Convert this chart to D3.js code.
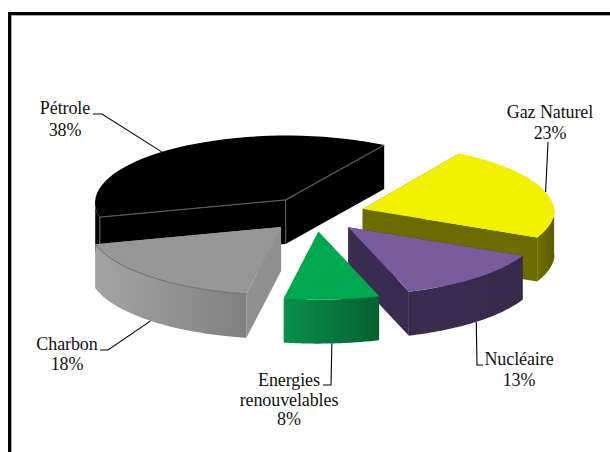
<!DOCTYPE html>
<html><head><meta charset="utf-8">
<script src="https://cdn.jsdelivr.net/npm/d3@7"></script>
<style>html,body{margin:0;padding:0;background:#fff}svg{display:block}text{font-family:"Liberation Serif",serif;font-size:18px;letter-spacing:-0.1px;fill:#111}</style>
</head><body><svg id="c" width="610" height="452"></svg>
<script>
const categories = ["Gaz Naturel","Nucléaire","Energies renouvelables","Charbon","Pétrole"];
const values = [23,13,8,18,38];
const topColors = ["#f2f200","#7a5c9c","#00a94f","#969696","#000000"];
const wallColors = ["#6b6b00","#3a2b50","#0a7f42","#8f8f8f","#000000"];
const arcStops = [["#6f6f00","#5c5c00"],["#3b2c52","#382a4c"],["#0a8f4c","#056030"],["#a4a4a4","#808080"],["#000000","#000000"]];
const labelLines = [["Gaz Naturel","23%"],["Nucléaire","13%"],["Energies","renouvelables","8%"],["Charbon","18%"],["Pétrole","38%"]];

const svg = d3.select("#c");
// frame: black top and left rules with a grey inner shadow, open on the right and bottom
[[11.5,15.5,610,15.5,"#a8a8a8",1],[11.5,15,11.5,452,"#a8a8a8",1],[9.5,12,9.5,452,"#000",3],[8,13.5,610,13.5,"#000",3]].forEach(l=>{
  svg.append("line").attr("x1",l[0]).attr("y1",l[1]).attr("x2",l[2]).attr("y2",l[3]).attr("stroke",l[4]).attr("stroke-width",l[5]);
});

const C = {x:315,y:214}, explode = 0.26, depth = 44, persp = 0.04;
const sx = d3.scaleLinear().domain([-1,1]).range([-192,192]);
const sy = d3.scaleLinear().domain([-1,1]).range([68,-68]);
const rad = d => d*Math.PI/180;
const pie = d3.pie().sort(null).startAngle(rad(32)).endAngle(rad(392));
const arcs = pie(values);

const line = d3.line().x(d=>d[0]).y(d=>d[1]);
const defs = svg.append("defs");
const project=(X,Y)=>{const s=1/(1+persp*Math.max(Y,0));return [C.x+sx(X)*s,C.y+sy(Y)*s];};
arcs.forEach((a,i)=>{
  const mid=(a.startAngle+a.endAngle)/2;
  a.i=i; a.mid=mid;
  const ex=explode*Math.sin(mid), ey=explode*Math.cos(mid);
  a.pt=(t,r=1,dz=0)=>{const p=project(ex+r*Math.sin(t),ey+r*Math.cos(t));return [p[0],p[1]+dz];};
  const g=defs.append("linearGradient").attr("id","g"+i);
  g.append("stop").attr("offset",0).attr("stop-color",arcStops[i][0]);
  g.append("stop").attr("offset",1).attr("stop-color",arcStops[i][1]);
});
const samples=(a,b)=>d3.range(0,41).map(k=>a+(b-a)*k/40);

// painter's order: back to front
[4,0,3,1,2].forEach(i=>{
  const a=arcs[i], g=svg.append("g");
  const O=a.pt(0,0), S=a.pt(a.startAngle), E=a.pt(a.endAngle);
  const wall=(P)=>[O,P,[P[0],P[1]+depth],[O[0],O[1]+depth]];
  g.append("path").attr("d",line(wall(S))+"Z").attr("fill",wallColors[i]);
  g.append("path").attr("d",line(wall(E))+"Z").attr("fill",wallColors[i]);
  // visible part of the rim: the lower half of the ellipse
  const lo=Math.max(a.startAngle,rad(90)), hi=Math.min(a.endAngle,rad(270));
  if(hi>lo){
    const ts=samples(lo,hi);
    const pts=ts.map(t=>a.pt(t)).concat(ts.slice().reverse().map(t=>a.pt(t,1,depth)));
    g.append("path").attr("d",line(pts)+"Z").attr("fill","url(#g"+i+")");
  }
  const rim=samples(a.startAngle,a.endAngle).map(t=>a.pt(t));
  g.append("path").attr("d",line([O].concat(rim))+"Z").attr("fill",topColors[i]);
  if(i===4){
    const seg=(p)=>g.append("path").attr("d",line(p)).attr("fill","none").attr("stroke","#5a5a5a").attr("stroke-width",1.2);
    seg([S,O,E]); seg([O,[O[0],O[1]+depth]]); seg([S,[S[0],S[1]+depth]]);
  }
  if(i===3){
    g.append("path").attr("d",line(samples(a.startAngle,a.endAngle).map(t=>a.pt(t)))).attr("fill","none").attr("stroke","#666").attr("stroke-width",.8);
  }
});

// leader lines run from a rim point near each slice's mid-angle to its label
const leaderLayout = [
  {shift:2, dz:0, via:[[548,142]]},
  {shift:0, dz:depth, via:[[477,365],[483,365]]},
  {shift:0, dz:depth, via:[[331,385],[323,385]]},
  {shift:0, dz:depth, via:[[108,350],[100,350]]},
  {shift:-6, dz:0, via:[[102,114],[93,114]]}
];
arcs.forEach((a,i)=>{
  const p=a.pt(a.mid+rad(leaderLayout[i].shift),1,leaderLayout[i].dz);
  svg.append("path").attr("d",line([p].concat(leaderLayout[i].via)))
    .attr("fill","none").attr("stroke","#000").attr("stroke-width",1.1);
});

const labelLayout = [
  {ys:[118,139],xs:[550,550]},
  {ys:[365,386],xs:[519,519]},
  {ys:[386,406,425],xs:[289,289,289]},
  {ys:[350,370],xs:[67,67]},
  {ys:[114,136],xs:[65,65]}
];
labelLines.forEach((ls,i)=>ls.forEach((s,j)=>{
  svg.append("text").attr("x",labelLayout[i].xs[j]).attr("y",labelLayout[i].ys[j])
    .attr("text-anchor","middle").text(s);
}));
</script></body></html>
